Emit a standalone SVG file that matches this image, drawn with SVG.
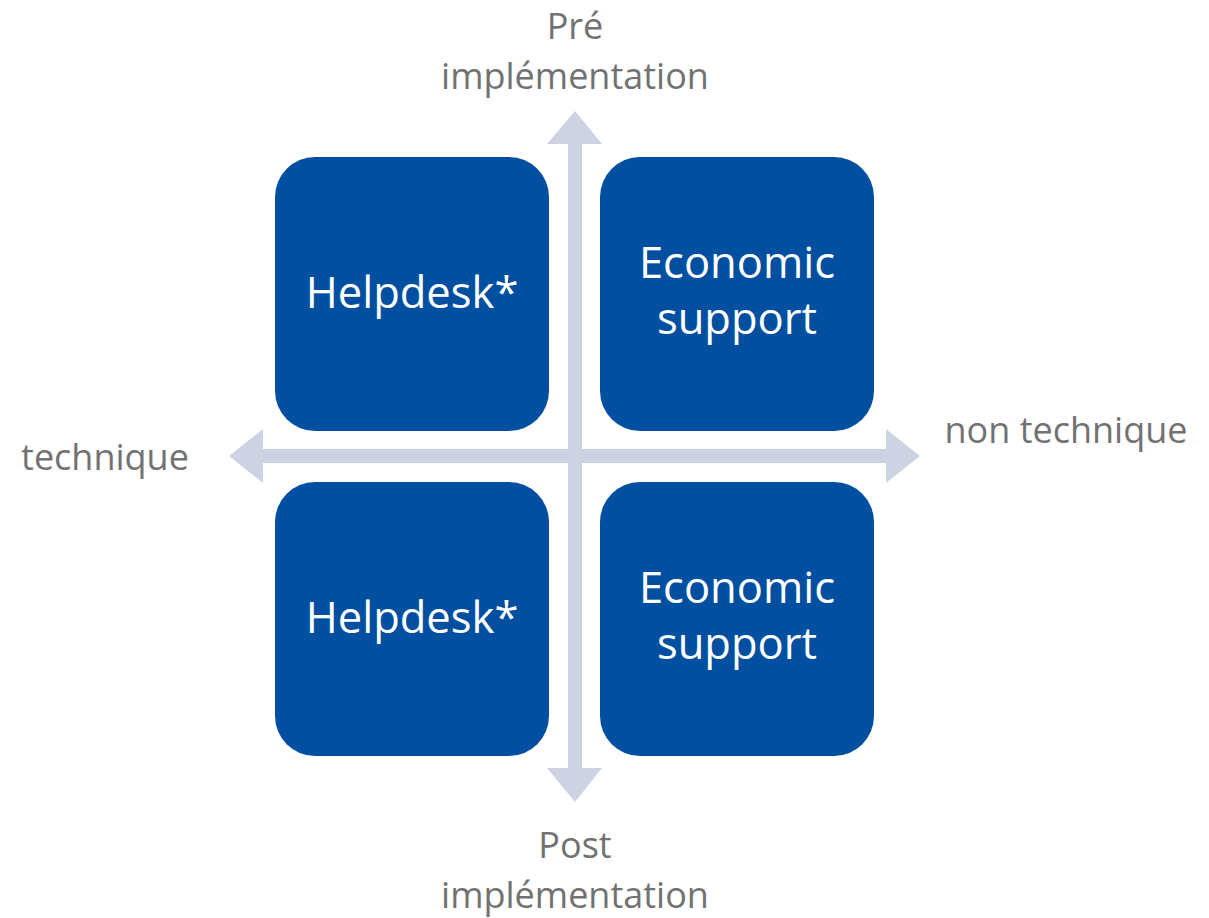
<svg xmlns="http://www.w3.org/2000/svg" width="1209" height="918" viewBox="0 0 1209 918">
<style>
.box{fill:#004FA0}
.bt{fill:#FFFFFF;font-family:"Open Sans","Liberation Sans",sans-serif;font-size:43.5px;text-anchor:middle}
.lab{fill:#727272;font-family:"Open Sans","Liberation Sans",sans-serif;font-size:36px;text-anchor:middle}
.axis{fill:#CDD3E3}
</style>
<rect width="1209" height="918" fill="#FFFFFF"/>
<g id="connectors">
<polygon class="axis" points="229,456 263,429 263,449 886,449 886,429 920,456 886,483 886,463 263,463 263,483"/>
<polygon class="axis" points="575,111 602,144 582,144 582,768 602,768 575,802 547,768 568,768 568,144 547,144"/>
</g>
<g id="node-tl">
<rect class="box" x="275" y="157" width="274" height="274" rx="40"/>
<text class="bt" x="412" y="308">Helpdesk*</text>
</g>
<g id="node-tr">
<rect class="box" x="600" y="157" width="274" height="274" rx="40"/>
<text class="bt" x="737" y="278">Economic</text>
<text class="bt" x="737" y="334">support</text>
</g>
<g id="node-bl">
<rect class="box" x="275" y="482" width="274" height="274" rx="40"/>
<text class="bt" x="412" y="633">Helpdesk*</text>
</g>
<g id="node-br">
<rect class="box" x="600" y="482" width="274" height="274" rx="40"/>
<text class="bt" x="737" y="603">Economic</text>
<text class="bt" x="737" y="659">support</text>
</g>
<g id="label-top">
<text class="lab" x="575" y="39">Pré</text>
<text class="lab" x="575" y="89">implémentation</text>
</g>
<g id="label-bottom">
<text class="lab" x="575" y="858">Post</text>
<text class="lab" x="575" y="908">implémentation</text>
</g>
<g id="label-left">
<text class="lab" x="105" y="470">technique</text>
</g>
<g id="label-right">
<text class="lab" x="1066" y="443">non technique</text>
</g>
</svg>
